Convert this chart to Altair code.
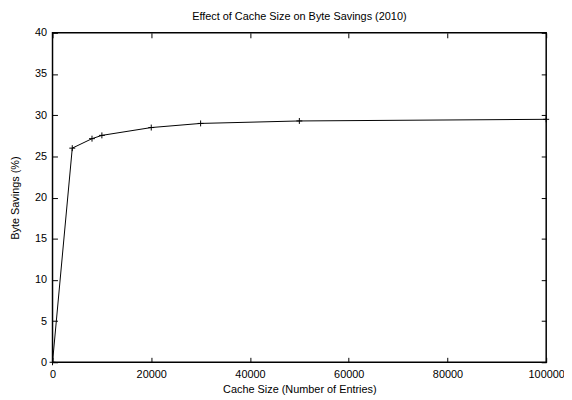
import altair as alt
import pandas as pd

cache_size = [0, 4000, 8000, 10000, 20000, 30000, 50000, 100000]
byte_savings = [0, 26.0, 27.15, 27.55, 28.5, 29.0, 29.3, 29.5]

x_ticks = [0, 20000, 40000, 60000, 80000, 100000]
y_ticks = [0, 5, 10, 15, 20, 25, 30, 35, 40]

df = pd.DataFrame({"size": cache_size, "savings": byte_savings})

FONT = "Liberation Sans"
TICK = 5

x_scale = alt.Scale(domain=[0, 100000], nice=False, zero=False)
y_scale = alt.Scale(domain=[0, 40], nice=False)

base = alt.Chart(df)

x_main = alt.X(
    "size:Q", scale=x_scale,
    axis=alt.Axis(
        orient="bottom", values=x_ticks, format="d", offset=-TICK, tickSize=TICK,
        domain=False, grid=False, labelPadding=6, labelFlush=False,
        labelOverlap=False, labelBound=False, title="Cache Size (Number of Entries)",
        titlePadding=5,
    ),
)
y_main = alt.Y(
    "savings:Q", scale=y_scale,
    axis=alt.Axis(
        orient="left", values=y_ticks, offset=-TICK, tickSize=TICK,
        domain=False, grid=False, labelPadding=6, labelFlush=False,
        labelOverlap=False, title="Byte Savings (%)", titlePadding=14,
    ),
)

line = base.mark_line(color="black", strokeWidth=1).encode(x=x_main, y=y_main)
points = base.mark_point(
    shape="M-1,0L1,0M0,-1L0,1", size=36, filled=False, color="black",
    strokeWidth=1, opacity=1,
).encode(x="size:Q", y="savings:Q")

mirror = base.mark_line(opacity=0).encode(
    x=alt.X(
        "size:Q", scale=x_scale,
        axis=alt.Axis(orient="top", values=x_ticks, offset=-TICK, tickSize=TICK,
                      domain=False, grid=False, labels=False, title=None),
    ),
    y=alt.Y(
        "savings:Q", scale=y_scale,
        axis=alt.Axis(orient="right", values=y_ticks, offset=-TICK, tickSize=TICK,
                      domain=False, grid=False, labels=False, title=None),
    ),
)

chart = (
    alt.layer(alt.layer(line, points), mirror)
    .resolve_axis(x="independent", y="independent")
    .properties(
        width=499,
        height=333,
        autosize=alt.AutoSizeParams(type="none"),
        padding={"left": 45, "top": 23, "right": 18, "bottom": 34},
        title=alt.TitleParams(
            "Effect of Cache Size on Byte Savings (2010)", fontSize=11,
            fontWeight="normal", font=FONT, color="black", anchor="middle",
            baseline="bottom", offset=-6, frame="group",
        ),
    )
    .configure_view(stroke="black", strokeWidth=1.5)
    .configure_axis(
        labelFont=FONT, labelFontSize=11, labelColor="black",
        titleFont=FONT, titleFontSize=11, titleColor="black", titleFontWeight="normal",
        tickColor="black", tickWidth=1,
    )
)

chart.save("out.html", embed_options={"renderer": "svg", "actions": False})
